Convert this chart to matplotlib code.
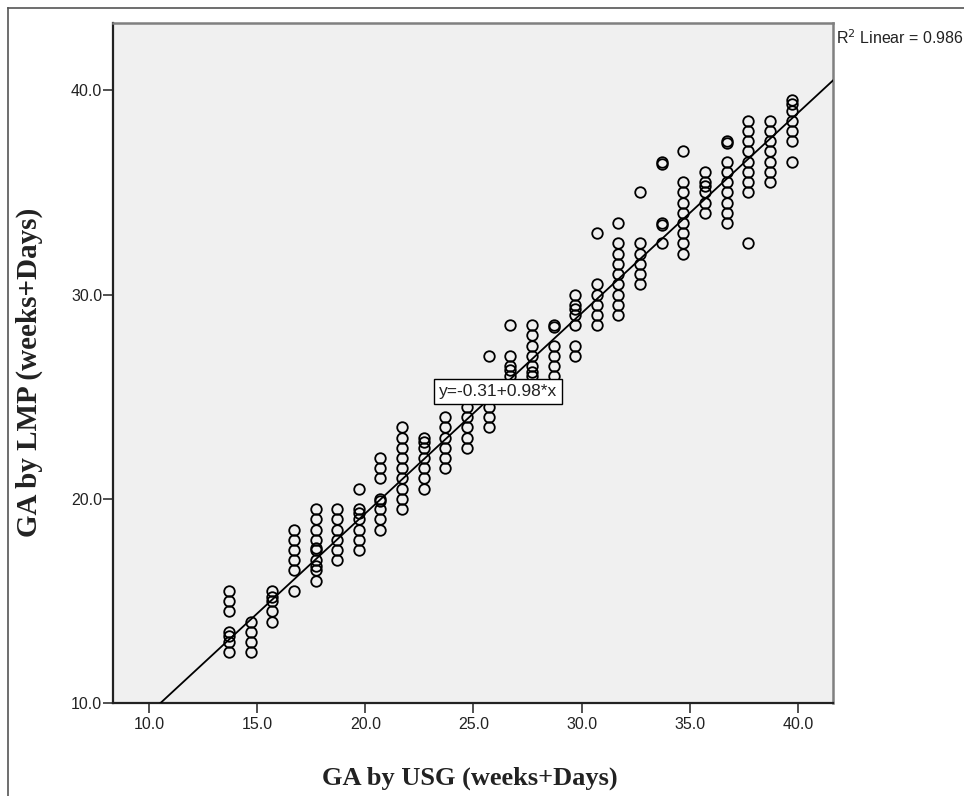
import numpy as np
import matplotlib.pyplot as plt
from matplotlib.lines import Line2D

# GA by USG columns (weeks+days)
usg_weeks = [13.7, 14.7, 15.7, 16.7, 17.7, 18.7, 19.7, 20.7, 21.7, 22.7,
             23.7, 24.7, 25.7, 26.7, 27.7, 28.7, 29.7, 30.7, 31.7, 32.7,
             33.7, 34.7, 35.7, 36.7, 37.7, 38.7, 39.7]

# GA by LMP for each USG column
wk13 = [15.5, 15.0, 14.5, 13.5, 13.3, 13.0, 12.5]
wk14 = [14.0, 13.5, 13.0, 12.5]
wk15 = [15.5, 15.2, 15.0, 14.5, 14.0]
wk16 = [18.5, 18.0, 17.5, 17.0, 16.5, 15.5]
wk17 = [19.5, 19.0, 18.5, 18.0, 17.6, 17.5, 17.0, 16.7, 16.5, 16.0]
wk18 = [19.5, 19.0, 18.5, 18.0, 17.5, 17.0]
wk19 = [20.5, 19.5, 19.3, 19.0, 18.5, 18.0, 17.5]
wk20 = [22.0, 21.5, 21.0, 20.0, 19.9, 19.5, 19.0, 18.5]
wk21 = [23.5, 23.0, 22.5, 22.0, 21.5, 21.0, 20.5, 20.0, 19.5]
wk22 = [23.0, 22.8, 22.5, 22.0, 21.5, 21.0, 20.5]
wk23 = [24.0, 23.5, 23.0, 22.5, 22.0, 21.5]
wk24 = [25.0, 24.5, 24.0, 23.5, 23.0, 22.5]
wk25 = [27.0, 24.5, 24.0, 23.5]
wk26 = [28.5, 27.0, 26.5, 26.3, 26.0, 25.5]
wk27 = [28.5, 28.0, 27.5, 27.0, 26.5, 26.2, 26.0]
wk28 = [28.5, 28.4, 27.5, 27.0, 26.5, 26.0, 25.5]
wk29 = [30.0, 29.5, 29.3, 29.0, 28.5, 27.5, 27.0]
wk30 = [33.0, 30.5, 30.0, 29.5, 29.0, 28.5]
wk31 = [33.5, 32.5, 32.0, 31.5, 31.0, 30.5, 30.0, 29.5, 29.0]
wk32 = [35.0, 32.5, 32.0, 31.5, 31.0, 30.5]
wk33 = [36.5, 36.4, 33.5, 33.4, 32.5]
wk34 = [37.0, 35.5, 35.0, 34.5, 34.0, 33.5, 33.0, 32.5, 32.0]
wk35 = [36.0, 35.5, 35.3, 35.0, 34.5, 34.0]
wk36 = [37.5, 37.4, 36.5, 36.0, 35.5, 35.0, 34.5, 34.0, 33.5]
wk37 = [38.5, 38.0, 37.5, 37.0, 36.5, 36.0, 35.5, 35.0, 32.5]
wk38 = [38.5, 38.0, 37.5, 37.0, 36.5, 36.0, 35.5]
wk39 = [39.5, 39.3, 39.0, 38.5, 38.0, 37.5, 36.5]

lmp_cols = [wk13, wk14, wk15, wk16, wk17, wk18, wk19, wk20, wk21, wk22,
            wk23, wk24, wk25, wk26, wk27, wk28, wk29, wk30, wk31, wk32,
            wk33, wk34, wk35, wk36, wk37, wk38, wk39]

# fit line
intercept = -0.31
slope = 0.98
r2 = 0.986

x_ticks = [10.0, 15.0, 20.0, 25.0, 30.0, 35.0, 40.0]
y_ticks = [10.0, 20.0, 30.0, 40.0]

usg = np.concatenate([[w] * len(c) for w, c in zip(usg_weeks, lmp_cols)])
lmp = np.concatenate(lmp_cols)

fig = plt.figure(figsize=(9.64, 7.96), dpi=100)
ax = fig.add_axes([0.1175, 0.1165, 0.7469, 0.855])
ax.set_facecolor('#f0f0f0')

ax.plot(usg, lmp, 'o', markersize=7.6, markerfacecolor='none',
        markeredgecolor='black', markeredgewidth=1.3, zorder=3)

xlim = (8.35, 41.63)
xl = np.array(xlim)
ax.plot(xl, intercept + slope * xl, color='black', linewidth=1.3, zorder=4)

ax.set_xlim(*xlim)
ax.set_ylim(10.0, 43.3)
ax.set_xticks(x_ticks)
ax.set_yticks(y_ticks)
ax.set_xticklabels([f"{t:.1f}" for t in x_ticks])
ax.set_yticklabels([f"{t:.1f}" for t in y_ticks])
ax.tick_params(direction='out', length=7, width=1.1, colors='#222222',
               labelsize=11.5, labelcolor='#222222')
ax.tick_params(axis='x', pad=3)
ax.tick_params(axis='y', pad=1)
for lbl in ax.get_xticklabels() + ax.get_yticklabels():
    lbl.set_family('Liberation Sans')

for side in ['left', 'bottom']:
    ax.spines[side].set_color('#222222')
    ax.spines[side].set_linewidth(1.6)
for side in ['top', 'right']:
    ax.spines[side].set_color('#808080')
    ax.spines[side].set_linewidth(1.8)

# equation label
ax.text(26.13, 25.25, f"y={intercept}+{slope}*x", ha='center', va='center',
        fontsize=12.5, family='Liberation Sans', color='#222222', zorder=6,
        bbox=dict(boxstyle='square,pad=0.28', facecolor='white',
                  edgecolor='black', linewidth=1.0))

fig.text(836 / 964, 1 - 38 / 796, f"R$^2$ Linear = {r2}", ha='left',
         va='center', fontsize=11.5, family='Liberation Sans', color='#222222')

fig.text(470 / 964, 1 - 778 / 796, "GA by USG (weeks+Days)", ha='center',
         va='center', fontsize=19, fontweight='bold', family='Liberation Serif',
         color='#222222')
fig.text(29 / 964, 1 - 372 / 796, "GA by LMP (weeks+Days)", ha='center',
         va='center', rotation=90, fontsize=21, fontweight='bold',
         family='Liberation Serif', color='#222222')

# outer chart frame
fig.add_artist(Line2D([8 / 964, 8 / 964], [0, 1 - 8 / 796],
                      transform=fig.transFigure, color='#555555', linewidth=1.2))
fig.add_artist(Line2D([8 / 964, 1], [1 - 8 / 796, 1 - 8 / 796],
                      transform=fig.transFigure, color='#555555', linewidth=1.2))

fig.savefig('out.png', dpi=100)
